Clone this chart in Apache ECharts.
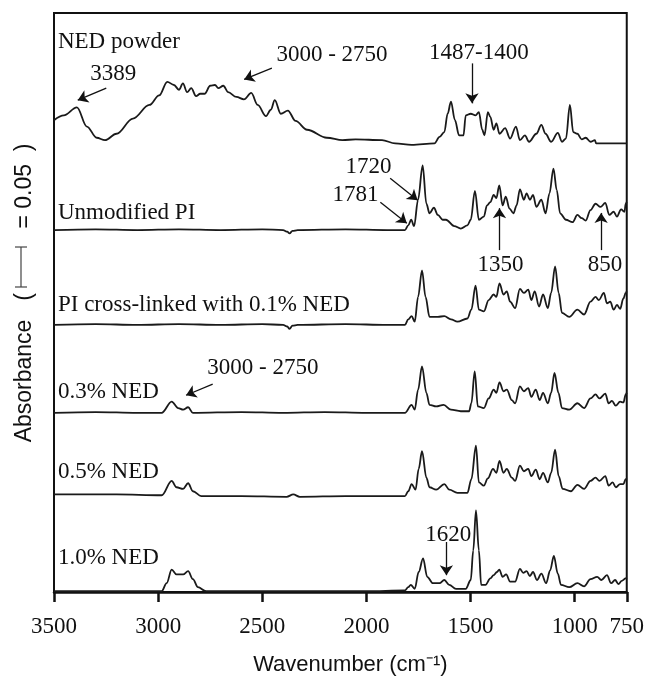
<!DOCTYPE html>
<html>
<head>
<meta charset="utf-8">
<script src="https://cdn.jsdelivr.net/npm/echarts@6/dist/echarts.min.js"></script>
<style>html,body{margin:0;padding:0;background:#fff}#c{width:647px;height:685px}</style>
</head>
<body>
<div id="c"></div>
<script>
// ---- data (wavenumber cm-1, absorbance above each trace's own baseline) ----
const wavenumberTicks = [3500, 3000, 2500, 2000, 1500, 1000, 750];
const seriesNames = ['NED powder', 'Unmodified PI', 'PI cross-linked with 0.1% NED', '0.3% NED', '0.5% NED', '1.0% NED'];
const baselineOffsets = [0.560, 0.4525, 0.334, 0.224, 0.121, 0.001];

const nedPowder = [[3500,0.030],[3453,0.036],[3390,0.046],[3342,0.022],[3295,0.008],[3255,0.005],[3200,0.013],[3121,0.032],[3042,0.049],[2995,0.061],[2956,0.078],[2924,0.074],[2900,0.068],[2881,0.076],[2861,0.065],[2841,0.070],[2818,0.060],[2798,0.063],[2777,0.063],[2750,0.073],[2727,0.074],[2711,0.070],[2687,0.073],[2664,0.065],[2624,0.059],[2588,0.056],[2553,0.064],[2522,0.049],[2482,0.035],[2459,0.043],[2440,0.055],[2411,0.038],[2377,0.042],[2340,0.029],[2285,0.018],[2190,0.008],[2115,0.005],[2052,0.006],[1925,0.005],[1862,0.001],[1783,-0.001],[1673,0.001],[1649,0.009],[1626,0.015],[1610,0.038],[1594,0.053],[1575,0.030],[1555,0.011],[1534,0.011],[1523,0.036],[1499,0.038],[1476,0.036],[1460,0.040],[1444,0.018],[1433,0.011],[1417,0.040],[1405,0.034],[1389,0.018],[1376,0.026],[1361,0.013],[1334,0.020],[1310,0.007],[1282,0.022],[1263,0.005],[1239,0.011],[1219,0.003],[1184,0.013],[1160,0.024],[1140,0.013],[1113,0.003],[1081,0.014],[1061,0.003],[1042,0.007],[1023,0.049],[1007,0.015],[987,0.013],[966,0.006],[947,0.008],[924,0.003],[903,0.005],[897,0.001],[760,0.001],[750,0.001]];

const unmodifiedPI = [[3500,0],[3300,0.001],[3100,0],[2900,0.001],[2700,0],[2500,0.001],[2400,0],[2380,-0.002],[2369,-0.004],[2355,-0.001],[2330,0],[2100,0.001],[1900,0],[1815,0],[1799,0.006],[1785,0.013],[1771,0.005],[1752,0.038],[1730,0.081],[1712,0.033],[1697,0.021],[1676,0.028],[1657,0.019],[1634,0.013],[1618,0.013],[1578,0.005],[1547,0.002],[1515,0.006],[1499,0.013],[1479,0.049],[1460,0.013],[1436,0.017],[1421,0.031],[1405,0.035],[1389,0.044],[1376,0.040],[1362,0.056],[1346,0.031],[1331,0.042],[1313,0.027],[1294,0.021],[1279,0.031],[1263,0.051],[1244,0.038],[1231,0.046],[1215,0.038],[1200,0.044],[1184,0.029],[1160,0.038],[1140,0.021],[1121,0.046],[1102,0.077],[1086,0.050],[1070,0.021],[1042,0.013],[1010,0.010],[987,0.019],[966,0.015],[947,0.012],[924,0.025],[900,0.033],[876,0.029],[853,0.034],[834,0.019],[813,0.023],[797,0.017],[777,0.026],[761,0.023],[755,0.033],[750,0.035]];

const pi01NED = [[3500,0],[3300,0.001],[3100,0],[2900,0.001],[2700,0],[2500,0.001],[2400,0],[2380,-0.002],[2369,-0.005],[2355,-0.001],[2330,0],[2100,0.001],[1900,0],[1815,0],[1799,0.007],[1783,0.011],[1768,0.004],[1752,0.035],[1733,0.068],[1716,0.035],[1697,0.010],[1657,0.010],[1626,0.011],[1594,0.007],[1563,0.004],[1515,0.008],[1496,0.019],[1476,0.049],[1460,0.019],[1436,0.017],[1413,0.031],[1389,0.038],[1376,0.035],[1361,0.052],[1342,0.038],[1326,0.042],[1310,0.029],[1286,0.021],[1263,0.045],[1244,0.040],[1223,0.044],[1208,0.031],[1192,0.042],[1171,0.023],[1152,0.038],[1129,0.021],[1113,0.040],[1094,0.073],[1077,0.040],[1061,0.015],[1026,0.010],[987,0.019],[955,0.013],[924,0.029],[900,0.035],[884,0.031],[860,0.040],[845,0.027],[829,0.029],[813,0.019],[797,0.025],[782,0.020],[766,0.033],[755,0.040],[750,0.042]];

const ned03 = [[3500,0],[3300,0.001],[3100,0],[2983,0],[2935,0.014],[2904,0.006],[2880,0.004],[2856,0.007],[2833,0],[2600,0.001],[2400,0],[2200,0.001],[2000,0],[1815,0],[1783,0.010],[1768,0.004],[1752,0.029],[1733,0.058],[1712,0.025],[1697,0.010],[1665,0.008],[1629,0.010],[1594,0.004],[1547,0.002],[1507,0.002],[1496,0.012],[1480,0.052],[1465,0.008],[1436,0.006],[1413,0.018],[1389,0.029],[1376,0.025],[1361,0.038],[1342,0.027],[1326,0.029],[1302,0.016],[1286,0.012],[1263,0.033],[1244,0.027],[1223,0.031],[1208,0.020],[1187,0.029],[1168,0.016],[1152,0.025],[1129,0.012],[1113,0.025],[1097,0.050],[1078,0.025],[1061,0.006],[1026,0.004],[987,0.012],[955,0.006],[924,0.018],[900,0.023],[881,0.018],[853,0.024],[837,0.012],[821,0.015],[803,0.009],[782,0.014],[766,0.013],[755,0.023],[750,0.025]];

const ned05 = [[3500,0.001],[3200,0.001],[2983,0],[2935,0.018],[2912,0.010],[2880,0.008],[2856,0.015],[2833,0.005],[2793,-0.001],[2600,-0.001],[2383,-0.002],[2351,0.001],[2320,-0.002],[2100,-0.001],[1900,-0.001],[1815,-0.001],[1799,0.005],[1783,0.014],[1764,0.007],[1749,0.033],[1733,0.055],[1712,0.022],[1697,0.010],[1665,0.007],[1626,0.014],[1602,0.007],[1563,0.003],[1515,0.003],[1496,0.020],[1474,0.062],[1460,0.016],[1436,0.012],[1417,0.021],[1392,0.033],[1376,0.028],[1361,0.043],[1342,0.028],[1326,0.033],[1302,0.022],[1286,0.018],[1263,0.037],[1244,0.030],[1223,0.033],[1208,0.024],[1187,0.032],[1168,0.020],[1152,0.028],[1129,0.016],[1113,0.028],[1094,0.057],[1077,0.024],[1058,0.008],[1018,0.005],[987,0.013],[955,0.008],[924,0.018],[900,0.022],[881,0.018],[853,0.024],[837,0.012],[818,0.016],[802,0.010],[782,0.014],[766,0.014],[755,0.020],[750,0.021]];

const ned10 = [[3500,0],[3200,0],[2983,0],[2959,0.010],[2935,0.027],[2912,0.021],[2880,0.021],[2856,0.025],[2833,0.015],[2809,0.005],[2770,0],[2500,0],[2200,0],[2000,0],[1815,0.001],[1799,0.005],[1787,0.008],[1768,0.003],[1749,0.024],[1728,0.041],[1708,0.018],[1681,0.010],[1649,0.010],[1626,0.014],[1602,0.008],[1570,0.003],[1523,0.003],[1499,0.014],[1487,0.051],[1474,0.101],[1460,0.051],[1449,0.008],[1428,0.008],[1405,0.016],[1389,0.020],[1373,0.024],[1362,0.027],[1346,0.018],[1329,0.021],[1310,0.012],[1286,0.012],[1263,0.028],[1247,0.023],[1231,0.025],[1215,0.019],[1200,0.024],[1181,0.014],[1160,0.022],[1137,0.010],[1118,0.026],[1100,0.044],[1081,0.022],[1066,0.008],[1026,0.005],[987,0.010],[955,0.006],[924,0.015],[892,0.018],[872,0.014],[845,0.020],[825,0.010],[806,0.014],[790,0.009],[774,0.013],[755,0.016],[750,0.017]];

const spectra = [nedPowder, unmodifiedPI, pi01NED, ned03, ned05, ned10];

// annotations: [wavenumber, absolute absorbance, text]
const traceLabels = [[3481,0.6875,'NED powder'],[3481,0.474,'Unmodified PI'],[3481,0.359,'PI cross-linked with 0.1% NED'],[3481,0.250,'0.3% NED'],[3481,0.150,'0.5% NED'],[3481,0.0425,'1.0% NED']];
const peakLabels = [[3216,0.6475,'3389'],[2165,0.671,'3000 - 2750'],[1460,0.674,'1487-1400'],[1990,0.531,'1720'],[2052,0.496,'1781'],[1356,0.409,'1350'],[854,0.409,'850'],[2497,0.280,'3000 - 2750'],[1607,0.071,'1620']];
const arrows = [[[3249,0.630],[3386,0.615]],[[2454,0.655],[2587,0.641]],[[1493,0.661],[1493,0.611]],[[1886,0.5175],[1754,0.490]],[[1933,0.4875],[1806,0.461]],[[1361,0.4275],[1361,0.480]],[[873,0.4275],[873,0.474]],[[2738,0.260],[2866,0.246]],[[1616,0.0625],[1616,0.021]]];
const scaleBarValue = 0.05;

const ink = '#111';
const serif = '"Liberation Serif", "Times New Roman", serif';
const sans = '"Liberation Sans", Arial, sans-serif';

const chart = echarts.init(document.getElementById('c'), null, {renderer: 'canvas'});

const lineSeries = spectra.map((pts, i) => ({
  name: seriesNames[i],
  type: 'line',
  data: pts.map(p => [p[0], p[1] + baselineOffsets[i]]),
  showSymbol: false,
  symbol: 'none',
  smooth: 0.35,
  smoothMonotone: 'x',
  lineStyle: {color: '#1a1a1a', width: 1.8},
  silent: true,
  z: 3
}));

const textLabel = {show: true, formatter: p => p.name, color: ink, fontFamily: serif, fontSize: 23};

const option = {
  animation: false,
  backgroundColor: '#fff',
  grid: {left: 54, right: 13, top: 13, bottom: 93, show: true, borderColor: ink, borderWidth: 2, backgroundColor: 'transparent'},
  xAxis: {
    type: 'value', min: 750, max: 3500, inverse: true,
    axisLine: {show: true, onZero: false, lineStyle: {color: ink, width: 2.5}},
    axisTick: {show: true, inside: false, length: 10, lineStyle: {color: ink, width: 2.5}, customValues: wavenumberTicks},
    axisLabel: {show: true, color: ink, fontFamily: serif, fontSize: 23, margin: 23, customValues: wavenumberTicks, showMinLabel: true, showMaxLabel: true, formatter: v => String(v)},
    splitLine: {show: false},
    name: 'Wavenumber (cm\u207B\u00B9)', nameLocation: 'middle', nameGap: 62,
    nameTextStyle: {color: ink, fontFamily: sans, fontSize: 22, padding: [0, 0, 0, 20]}
  },
  yAxis: {
    type: 'value', min: 0, max: 0.724,
    axisLine: {show: false}, axisTick: {show: false}, axisLabel: {show: false}, splitLine: {show: false}
  },
  series: lineSeries.concat([
    {
      type: 'scatter', silent: true, symbolSize: 0, z: 5,
      itemStyle: {opacity: 1, color: 'transparent'},
      data: traceLabels.map(d => ({value: [d[0], d[1]], name: d[2]})),
      label: Object.assign({position: 'right', distance: 0}, textLabel)
    },
    {
      type: 'scatter', silent: true, symbolSize: 0, z: 5,
      itemStyle: {opacity: 1, color: 'transparent'},
      data: peakLabels.map(d => ({value: [d[0], d[1]], name: d[2]})),
      label: Object.assign({position: 'inside'}, textLabel)
    },
    {
      type: 'line', data: [], silent: true, z: 4,
      markLine: {
        silent: true, animation: false,
        symbol: ['none', 'arrow'], symbolSize: 10,
        label: {show: false},
        lineStyle: {color: ink, width: 1.3, type: 'solid', opacity: 1},
        emphasis: {disabled: true},
        data: arrows.map(a => [{coord: a[0]}, {coord: a[1]}])
      }
    }
  ])
};
chart.setOption(option);

// y-axis title with a 0.05 absorbance scale bar (length from the y scale)
const y0 = chart.convertToPixel({yAxisIndex: 0}, 0);
const y1 = chart.convertToPixel({yAxisIndex: 0}, scaleBarValue);
const barLen = y0 - y1;
const barCenter = 267, bx = 21;
chart.setOption({
  graphic: [
    {type: 'text', x: 25, y: 381, rotation: Math.PI / 2, style: {text: 'Absorbance', fill: ink, font: '23px ' + sans, align: 'center', verticalAlign: 'middle'}},
    {type: 'text', x: 25, y: 297, rotation: Math.PI / 2, style: {text: '(', fill: ink, font: '23px ' + sans, align: 'center', verticalAlign: 'middle'}},
    {type: 'text', x: 25, y: 186, rotation: Math.PI / 2, style: {text: '= 0.05  )', fill: ink, font: '23px ' + sans, align: 'center', verticalAlign: 'middle'}},
    {type: 'line', shape: {x1: bx, y1: barCenter - barLen / 2, x2: bx, y2: barCenter + barLen / 2}, style: {stroke: '#444', lineWidth: 1.2}},
    {type: 'line', shape: {x1: bx - 6, y1: barCenter - barLen / 2, x2: bx + 6, y2: barCenter - barLen / 2}, style: {stroke: '#444', lineWidth: 1.2}},
    {type: 'line', shape: {x1: bx - 6, y1: barCenter + barLen / 2, x2: bx + 6, y2: barCenter + barLen / 2}, style: {stroke: '#444', lineWidth: 1.2}}
  ]
});
</script>
</body>
</html>
